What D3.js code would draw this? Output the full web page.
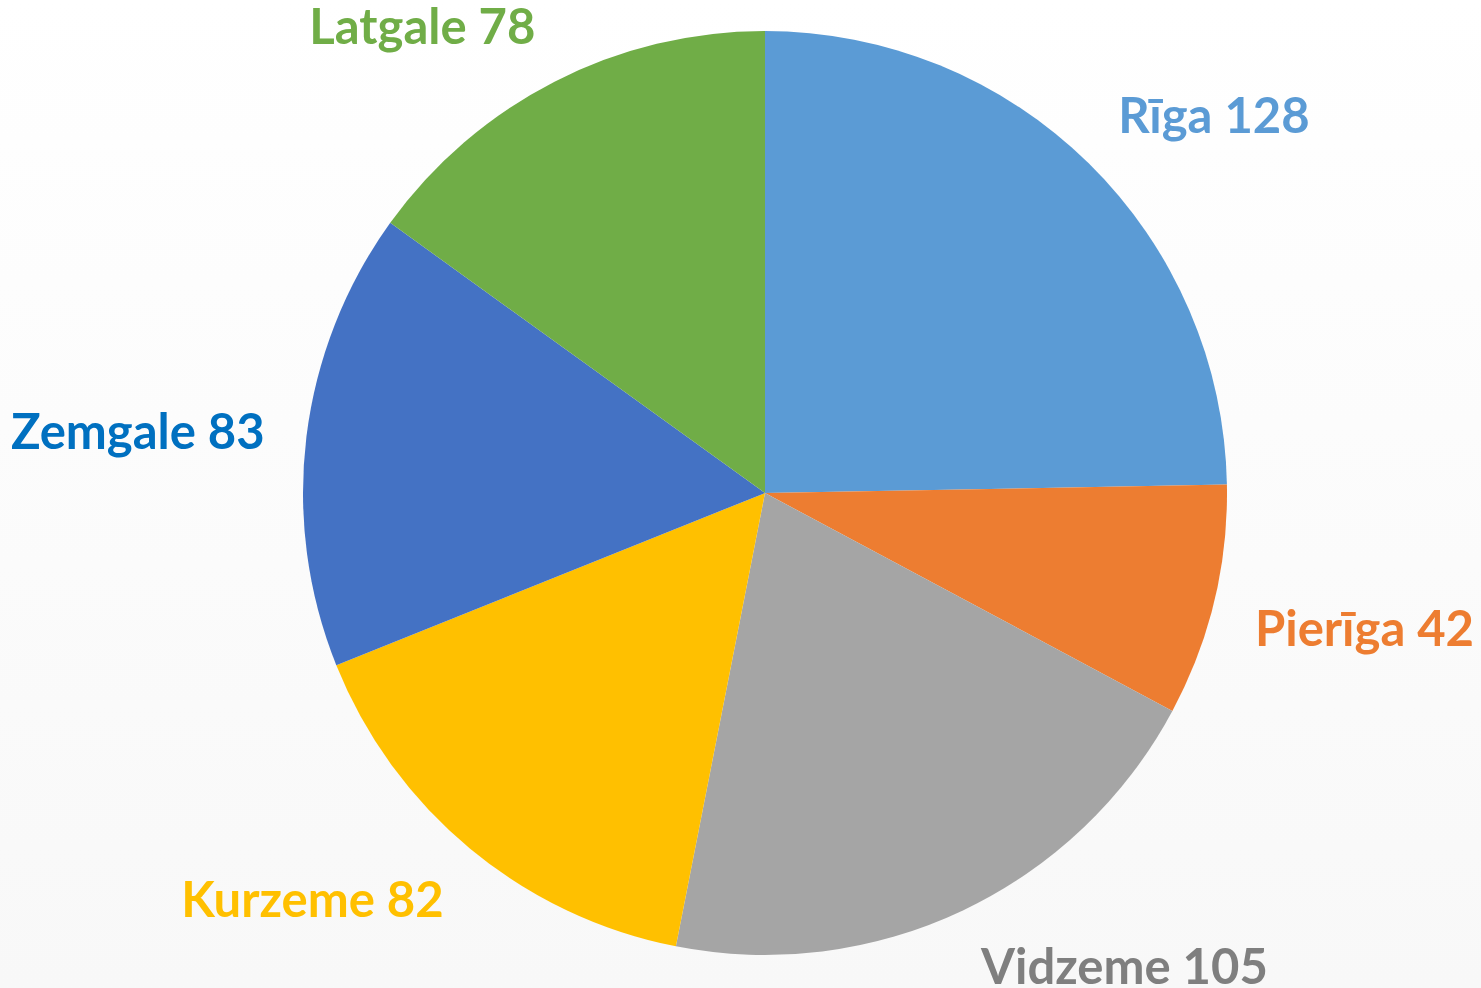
<!DOCTYPE html>
<html>
<head>
<meta charset="utf-8">
<title>Regions pie</title>
<script src="https://d3js.org/d3.v7.min.js"></script>
<style>
    body { margin: 0; background: #fff; }
    svg { display: block; font-family: Lato, "Open Sans", sans-serif; }
</style>
</head>
<body>
<svg width="1481" height="988"></svg>
<script>
    // data, in the order the slices go clockwise from 12 o'clock
    var regions = ["Rīga", "Pierīga", "Vidzeme", "Kurzeme", "Zemgale", "Latgale"];
    var counts = [128, 42, 105, 82, 83, 78];
    var sliceColors = ["#5b9bd5", "#ed7d31", "#a5a5a5", "#ffc000", "#4472c4", "#70ad47"];
    var labelColors = ["#5b9bd5", "#ed7d31", "#7f7f7f", "#ffc000", "#0070c0", "#70ad47"];

    var svg = d3.select("svg"),
        width = +svg.attr("width"),
        height = +svg.attr("height");

    var cx = 765, cy = 493, radius = 462, labelR = 504;
    var fontSize = 49, capH = fontSize * 0.72;

    // faint vertical gradient in the background
    var grad = svg.append("defs").append("linearGradient")
        .attr("id", "bg").attr("x1", 0).attr("y1", 0).attr("x2", 0).attr("y2", 1);
    grad.append("stop").attr("offset", "0%").attr("stop-color", "#ffffff");
    grad.append("stop").attr("offset", "100%").attr("stop-color", "#f8f8f8");
    svg.append("rect").attr("width", width).attr("height", height).attr("fill", "url(#bg)");

    var data = regions.map(function(r, i) { return { name: r, value: counts[i], i: i }; });

    var pie = d3.pie().sort(null).value(function(d) { return d.value; });
    var arc = d3.arc().innerRadius(0).outerRadius(radius);
    var color = d3.scaleOrdinal().domain(regions).range(sliceColors);
    var labelColor = d3.scaleOrdinal().domain(regions).range(labelColors);

    var g = svg.append("g").attr("transform", "translate(" + cx + "," + cy + ")");
    var arcs = pie(data);

    g.selectAll("path")
        .data(arcs)
        .enter().append("path")
        .attr("d", arc)
        .attr("fill", function(d) { return color(d.data.name); });

    // labels: the corner of the text box nearest the centre sits on a circle just outside the pie
    var labels = g.selectAll("text")
        .data(arcs)
        .enter().append("text")
        .attr("fill", function(d) { return labelColor(d.data.name); })
        .style("font-size", fontSize + "px")
        .style("font-weight", "bold")
        .text(function(d) { return d.data.name + " " + d.data.value; });

    labels.each(function(d) {
        var a = (d.startAngle + d.endAngle) / 2,
            s = Math.sin(a), c = Math.cos(a),
            px = labelR * s, py = -labelR * c;
        var w = this.getComputedTextLength();
        var x = s >= 0 ? px : px - w;
        var k = Math.max(-1, Math.min(1, c * 3 - 0.3));
        var yc = py - (capH / 2) * k;
        d3.select(this).attr("x", x).attr("y", yc + capH / 2);
    });
</script>
</body>
</html>
